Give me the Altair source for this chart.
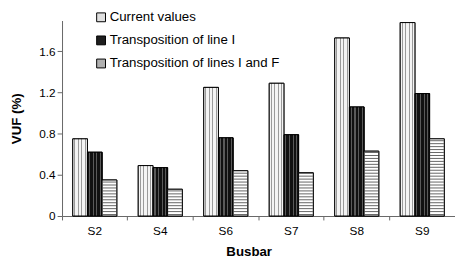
import altair as alt
import pandas as pd

busbars = ["S2", "S4", "S6", "S7", "S8", "S9"]
series = ["Current values", "Transposition of line I", "Transposition of lines I and F"]
current = [0.75, 0.49, 1.25, 1.29, 1.73, 1.88]
line_i = [0.62, 0.47, 0.76, 0.79, 1.06, 1.19]
lines_if = [0.35, 0.26, 0.44, 0.42, 0.63, 0.75]
y_ticks = [0, 0.4, 0.8, 1.2, 1.6]

rows = []
for s, vals in zip(series, [current, line_i, lines_if]):
    for b, v in zip(busbars, vals):
        rows.append({"Busbar": b, "Series": s, "VUF": v})
df = pd.DataFrame(rows)

FONT = "Liberation Sans"
AX = "#666666"

x_enc = alt.X(
    "Busbar:N",
    scale=alt.Scale(domain=busbars, paddingInner=0, paddingOuter=0),
    axis=alt.Axis(
        title="Busbar", labelAngle=0, bandPosition=0, tickSize=4, labelPadding=6,
        domainColor=AX, tickColor=AX, labelFontSize=12, labelColor="black",
        titleFontSize=13.5, titleFontWeight="bold", titlePadding=8, titleX=190,
        titleColor="black",
    ),
)
xo_enc = alt.XOffset(
    "Series:N", scale=alt.Scale(domain=series, paddingInner=0, paddingOuter=0.73)
)
y_scale = alt.Scale(domain=[0, 1.9], nice=False, zero=True)
y_axis = alt.Axis(
    title="VUF (%)", values=y_ticks, format="~g", grid=False, tickSize=5,
    labelPadding=2, domainColor=AX, tickColor=AX, labelFontSize=12,
    labelColor="black", titleFontSize=13.5, titleFontWeight="bold",
    titlePadding=16, titleColor="black",
)
y_enc = alt.Y("VUF:Q", scale=y_scale, axis=y_axis)

base = alt.Chart(df)

legend_layer = base.mark_bar(stroke="black", strokeWidth=1).encode(
    x=x_enc,
    xOffset=xo_enc,
    y=y_enc,
    fill=alt.Fill(
        "Series:N",
        scale=alt.Scale(domain=series, range=["#e0e0e0", "#1e1e1e", "#b0b0b0"]),
        legend=alt.Legend(
            title=None, orient="none", legendX=33, legendY=-10,
            symbolType="square", symbolSize=81, symbolStrokeColor="black",
            symbolStrokeWidth=1, labelFontSize=13.5, labelFont=FONT,
            labelColor="black", rowPadding=8.5, padding=0, labelOffset=2,
            labelLimit=400, symbolOpacity=1,
        ),
    ),
)


def col_gradient(bg, fg, cols, half=0.035):
    stops = [alt.GradientStop(color=bg, offset=0)]
    for c in cols:
        stops.append(alt.GradientStop(color=bg, offset=c - half))
        stops.append(alt.GradientStop(color=fg, offset=c - half))
        stops.append(alt.GradientStop(color=fg, offset=c + half))
        stops.append(alt.GradientStop(color=bg, offset=c + half))
    stops.append(alt.GradientStop(color=bg, offset=1))
    return alt.LinearGradient(gradient="linear", stops=stops, x1=0, x2=1, y1=0, y2=0)


cols = [0.14, 0.38, 0.62, 0.86]
grad_current = col_gradient("#f4f4f4", "#9a9a9a", cols)
grad_line = col_gradient("#111111", "#5a5a5a", cols)

over_current = base.transform_filter(alt.datum.Series == series[0]).mark_bar(
    fill=grad_current, stroke="black", strokeWidth=1
).encode(x=x_enc, xOffset=xo_enc, y=y_enc)

over_line = base.transform_filter(alt.datum.Series == series[1]).mark_bar(
    fill=grad_line, stroke="black", strokeWidth=1
).encode(x=x_enc, xOffset=xo_enc, y=y_enc)

over_if = base.transform_filter(alt.datum.Series == series[2]).mark_bar(
    fill="white", stroke="black", strokeWidth=1
).encode(x=x_enc, xOffset=xo_enc, y=y_enc)

stripes = (
    base.transform_filter(alt.datum.Series == series[2])
    .transform_calculate(stripe="sequence(0.0143, datum.VUF, 0.0287)")
    .transform_flatten(["stripe"])
    .mark_tick(orient="horizontal", size=14, thickness=1, color="#222222")
    .encode(
        x=x_enc,
        xOffset=xo_enc,
        y=alt.Y("stripe:Q", scale=y_scale, axis=y_axis),
    )
)

chart = (
    alt.layer(legend_layer, over_current, over_line, over_if, stripes)
    .properties(
        width=400,
        height=199,
        autosize=alt.AutoSizeParams(type="none"),
        padding={"left": 55, "top": 10.5, "right": 0, "bottom": 40},
        background="white",
    )
    .configure(font=FONT)
    .configure_view(stroke=None)
)

chart.save("out.html", embed_options={"renderer": "svg", "actions": False})
